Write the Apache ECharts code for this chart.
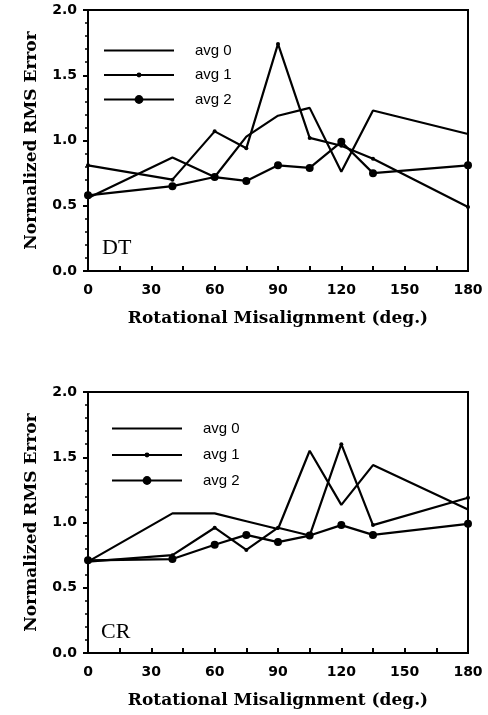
<!DOCTYPE html>
<html><head><meta charset="utf-8">
<script src="https://cdn.jsdelivr.net/npm/echarts@6/dist/echarts.min.js"></script>
<style>html,body{margin:0;padding:0;background:#fff}#c{width:488px;height:715px}</style>
</head><body><div id="c"></div>
<script>
const angles = [0, 40, 60, 75, 90, 105, 120, 135, 180];
const seriesNames = ['avg 0', 'avg 1', 'avg 2'];
const panelLabels = ['DT', 'CR'];
const dtAvg0 = [0.56, 0.87, 0.72, 1.03, 1.19, 1.25, 0.76, 1.23, 1.05];
const dtAvg1 = [0.81, 0.70, 1.07, 0.94, 1.74, 1.02, 0.96, 0.86, 0.49];
const dtAvg2 = [0.58, 0.65, 0.72, 0.69, 0.81, 0.79, 0.99, 0.75, 0.81];
const crAvg0 = [0.70, 1.07, 1.07, 1.01, 0.95, 1.55, 1.135, 1.44, 1.10];
const crAvg1 = [0.70, 0.75, 0.96, 0.79, 0.96, 0.90, 1.60, 0.98, 1.19];
const crAvg2 = [0.71, 0.72, 0.83, 0.905, 0.85, 0.90, 0.98, 0.905, 0.99];
const xTitle = 'Rotational Misalignment (deg.)';
const yTitle = 'Normalized RMS Error';

const pair = (vals) => angles.map((a, i) => [a, vals[i]]);
const tickFont = {fontFamily: 'DejaVu Sans', fontWeight: 'bold', fontSize: 14, color: '#000'};
const titleFont = {fontFamily: 'DejaVu Serif', fontWeight: 'bold', fontSize: 17, color: '#000'};

function xAxis(gi) {
  return {
    gridIndex: gi, type: 'value', min: 0, max: 180, interval: 30,
    axisLine: {lineStyle: {color: '#000', width: 2}},
    axisTick: {inside: true, length: 5, lineStyle: {color: '#000', width: 2}},
    minorTick: {show: true, splitNumber: 2, length: 5, lineStyle: {color: '#000', width: 2}},
    splitLine: {show: false},
    axisLabel: Object.assign({margin: 12}, tickFont),
    name: xTitle, nameLocation: 'middle', nameGap: 39, nameTextStyle: titleFont
  };
}
function yAxis(gi) {
  return {
    gridIndex: gi, type: 'value', min: 0, max: 2, interval: 0.5,
    axisLine: {lineStyle: {color: '#000', width: 2}},
    axisTick: {inside: false, length: 5, lineStyle: {color: '#000', width: 2}},
    minorTick: {show: true, splitNumber: 5, length: 3, lineStyle: {color: '#000', width: 1.5}},
    splitLine: {show: false},
    axisLabel: Object.assign({margin: 11, formatter: v => v.toFixed(1)}, tickFont),
    name: yTitle, nameLocation: 'middle', nameGap: 48, nameTextStyle: titleFont
  };
}
const styles = [
  {symbol: 'none', symbolSize: 0, legendH: 8, legendOpacity: 0},
  {symbol: 'circle', symbolSize: 4, legendH: 6, legendOpacity: 1},
  {symbol: 'circle', symbolSize: 8, legendH: 11, legendOpacity: 1}
];
function mk(name, idx, gi, vals) {
  return {
    name: name, type: 'line', xAxisIndex: gi, yAxisIndex: gi,
    data: pair(vals), symbol: styles[idx].symbol, symbolSize: styles[idx].symbolSize,
    showSymbol: idx !== 0,
    lineStyle: {color: '#000', width: 2.2}, itemStyle: {color: '#000'},
    animation: false, z: 3 + idx
  };
}
function legendItem(idx, left, centerY) {
  const h = styles[idx].legendH;
  return {
    orient: 'vertical', left: left, top: centerY - 7 - (h - 8) / 2 * 0, padding: 0,
    itemWidth: 70, itemHeight: h,
    data: [{name: seriesNames[idx], itemStyle: {opacity: styles[idx].legendOpacity}}],
    selectedMode: false,
    textStyle: {fontFamily: 'Liberation Sans', fontSize: 15, color: '#000', padding: [0, 0, 0, 16]}
  };
}
const topCenters = [50, 74.5, 99];
const botCenters = [428, 454.5, 480];
const legends = [];
for (let i = 0; i < 3; i++) legends.push(legendItem(i, 103, topCenters[i]));
for (let i = 0; i < 3; i++) legends.push(legendItem(i, 111, botCenters[i]));

const chart = echarts.init(document.getElementById('c'), null, {renderer: 'canvas'});
chart.setOption({
  backgroundColor: '#fff',
  animation: false,
  grid: [
    {left: 88, top: 10, width: 380, height: 261, show: true, borderColor: '#000', borderWidth: 2},
    {left: 88, top: 392, width: 380, height: 261, show: true, borderColor: '#000', borderWidth: 2}
  ],
  xAxis: [xAxis(0), xAxis(1)],
  yAxis: [yAxis(0), yAxis(1)],
  legend: legends,
  graphic: [
    {type: 'text', left: 102, top: 237, style: {text: panelLabels[0], font: '22px "Liberation Serif"', fill: '#000'}},
    {type: 'text', left: 101, top: 621, style: {text: panelLabels[1], font: '22px "Liberation Serif"', fill: '#000'}}
  ],
  series: [
    mk(seriesNames[0], 0, 0, dtAvg0), mk(seriesNames[1], 1, 0, dtAvg1), mk(seriesNames[2], 2, 0, dtAvg2),
    mk(seriesNames[0], 0, 1, crAvg0), mk(seriesNames[1], 1, 1, crAvg1), mk(seriesNames[2], 2, 1, crAvg2)
  ]
});
</script></body></html>
